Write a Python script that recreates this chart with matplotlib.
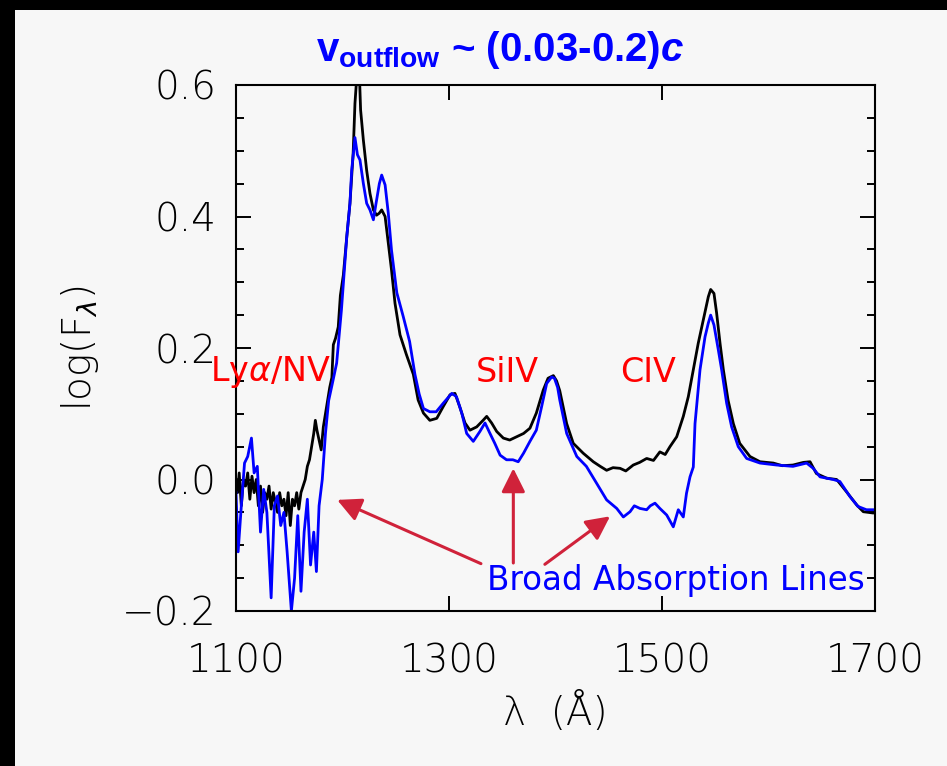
import numpy as np
import matplotlib
matplotlib.use('Agg')
import matplotlib.pyplot as plt
from matplotlib.ticker import MultipleLocator
from matplotlib.patches import Rectangle

# composite spectrum without BAL (black)
wave_black = [1100, 1101.5, 1103, 1105, 1107, 1109, 1111, 1113, 1115, 1117, 1119, 1121, 1123, 1125,
              1127, 1129, 1131, 1133, 1135, 1137, 1139, 1141, 1143, 1145, 1147, 1149, 1151, 1153,
              1155, 1157, 1159, 1161, 1163, 1165, 1167, 1169, 1171, 1173, 1174.5, 1176, 1178, 1180,
              1182, 1184, 1186, 1188, 1190, 1191.4, 1193.5, 1196, 1198, 1200.8, 1204, 1207, 1210,
              1211.7, 1213.3, 1215, 1216, 1217, 1219.6, 1222.7, 1225.8, 1229, 1232, 1234.5, 1236.8,
              1240, 1243, 1246, 1249.3, 1254, 1260, 1266.5, 1271, 1276, 1282, 1288.5, 1294.6, 1301,
              1305.6, 1310, 1315, 1319.7, 1326, 1332, 1335.4, 1340, 1344.8, 1351, 1357, 1363.6, 1370,
              1376, 1382, 1388.5, 1393, 1398, 1401, 1404, 1410.5, 1416.7, 1426, 1435.5, 1442, 1448,
              1454, 1460.6, 1466, 1473, 1479, 1485.6, 1492, 1498, 1503, 1507.5, 1513.8, 1520, 1524.7,
              1529.4, 1534, 1538.8, 1543.5, 1545.7, 1548.8, 1551.3, 1554.5, 1557.6, 1562, 1567, 1573,
              1582.6, 1592, 1604.5, 1613, 1623, 1632.7, 1639, 1645, 1654.6, 1664, 1673.4, 1683, 1689,
              1698.4, 1700]
flux_black = [0.0, -0.02, 0.01, -0.04, 0.0, -0.01, 0.01, -0.03, 0.005, -0.02, 0.0, -0.04, -0.01, -0.05,
              -0.02, -0.03, -0.01, -0.045, -0.02, -0.035, -0.05, -0.02, -0.04, -0.03, -0.055, -0.02, -0.07, -0.03,
              -0.04, -0.02, -0.045, -0.02, -0.01, 0.0, 0.02, 0.03, 0.05, 0.07, 0.09, 0.075, 0.06, 0.045,
              0.08, 0.10, 0.12, 0.14, 0.155, 0.205, 0.215, 0.232, 0.28, 0.311, 0.369, 0.42, 0.496,
              0.572, 0.61, 0.63, 0.61, 0.562, 0.516, 0.47, 0.435, 0.41, 0.402, 0.405, 0.41,
              0.40, 0.36, 0.319, 0.268, 0.22, 0.19, 0.16, 0.121, 0.101, 0.09, 0.093, 0.111, 0.129,
              0.131, 0.111, 0.086, 0.075, 0.08, 0.09, 0.096, 0.086, 0.073, 0.063, 0.06, 0.065, 0.07,
              0.078, 0.101, 0.136, 0.154, 0.158, 0.15, 0.135, 0.085, 0.055, 0.04, 0.027, 0.02, 0.014,
              0.018, 0.017, 0.013, 0.022, 0.026, 0.032, 0.029, 0.042, 0.038, 0.05, 0.065, 0.096, 0.126,
              0.167, 0.207, 0.243, 0.278, 0.289, 0.283, 0.253, 0.207, 0.167, 0.121, 0.085, 0.055,
              0.035, 0.027, 0.025, 0.021, 0.022, 0.026, 0.027, 0.009, 0.002, 0.0, -0.019, -0.039, -0.049,
              -0.051, -0.05]

# BAL quasar spectrum (blue)
wave_blue = [1100, 1102, 1105, 1108, 1111, 1114.5, 1117, 1120, 1123, 1126, 1129, 1133, 1136, 1139,
             1142, 1145, 1148, 1152, 1155, 1158, 1161, 1164, 1167, 1170, 1173, 1175.5, 1178, 1181,
             1184, 1187, 1191, 1194.5, 1199, 1204, 1207, 1208.6, 1211.7, 1214, 1216.4, 1219.6,
             1222.7, 1225.8, 1229, 1231.5, 1234.6, 1236.8, 1240, 1243, 1246, 1251, 1257, 1263,
             1268, 1272, 1276, 1282, 1288, 1294.6, 1302.6, 1307, 1312, 1316.6, 1322.8, 1329,
             1333.8, 1338.5, 1343, 1348, 1354, 1360, 1365, 1370, 1376, 1382, 1387, 1391.7, 1396.4,
             1399, 1402, 1404, 1410.5, 1420, 1429, 1438.7, 1448, 1457.5, 1463.7, 1470, 1474, 1479.3,
             1485.6, 1489, 1493.4, 1498, 1504.4, 1510.6, 1515.3, 1520, 1523, 1526.3, 1529.4, 1531,
             1535.7, 1540.4, 1543.5, 1545.7, 1548.8, 1552.9, 1556, 1560.7, 1565.4, 1571.6, 1579.5,
             1592, 1607.7, 1623, 1635.8, 1642, 1648.4, 1660.8, 1667, 1676.5, 1684, 1692, 1700]
flux_blue = [-0.02, -0.11, -0.04, 0.025, 0.035, 0.063, 0.01, 0.02, -0.08, -0.015, -0.05, -0.18, -0.04, -0.025,
             -0.07, -0.05, -0.11, -0.20, -0.15, -0.055, -0.17, -0.08, -0.03, -0.13, -0.08, -0.14, -0.04, 0.0,
             0.07, 0.12, 0.15, 0.177, 0.258, 0.369, 0.42, 0.47, 0.52, 0.494, 0.486, 0.45,
             0.42, 0.41, 0.395, 0.42, 0.45, 0.463, 0.448, 0.405, 0.349, 0.284, 0.248, 0.21,
             0.16, 0.13, 0.108, 0.103, 0.103, 0.116, 0.131, 0.126, 0.101, 0.07, 0.058, 0.073,
             0.086, 0.07, 0.055, 0.037, 0.03, 0.03, 0.027, 0.04, 0.058, 0.075, 0.111, 0.146, 0.156,
             0.154, 0.14, 0.121, 0.07, 0.035, 0.02, -0.006, -0.031, -0.044, -0.057, -0.049, -0.04, -0.044,
             -0.046, -0.04, -0.036, -0.044, -0.054, -0.072, -0.046, -0.057, -0.021, 0.004, 0.019, 0.085,
             0.167, 0.217, 0.238, 0.25, 0.235, 0.197, 0.167, 0.116, 0.08, 0.05, 0.032,
             0.025, 0.022, 0.02, 0.025, 0.017, 0.004, 0.0, -0.003, -0.026, -0.041, -0.046, -0.046]

xticks = [1100, 1300, 1500, 1700]
yticks = [-0.2, 0.0, 0.2, 0.4, 0.6]

BG = '#f7f7f7'
ARROW = '#d0223a'
THIN = dict(family='DejaVu Sans', fontweight=200)

plt.rcParams['mathtext.fontset'] = 'custom'
plt.rcParams['mathtext.bf'] = 'Liberation Sans:bold'
plt.rcParams['mathtext.bfit'] = 'Liberation Sans:italic:bold'

fig = plt.figure(figsize=(9.47, 7.66), dpi=100, facecolor=BG)
# dark frame strips at top and left edge of the slide
fig.patches.append(Rectangle((0, 1 - 10 / 766), 1, 10 / 766, transform=fig.transFigure,
                             facecolor='black', edgecolor='none'))
fig.patches.append(Rectangle((0, 0), 15 / 947, 1, transform=fig.transFigure,
                             facecolor='black', edgecolor='none'))

ax = fig.add_axes([236 / 947, 1 - 611 / 766, 639 / 947, 526 / 766], facecolor=BG)
ax.plot(wave_black, flux_black, color='black', lw=2.0)
ax.plot(wave_blue, flux_blue, color='#0000ff', lw=2.0)

ax.set_xlim(1100, 1700)
ax.set_ylim(-0.2, 0.6)
ax.set_xticks(xticks)
ax.set_xticklabels([str(t) for t in xticks], **THIN)
ax.set_yticks(yticks)
ax.set_yticklabels(['\u22120.2', '0.0', '0.2', '0.4', '0.6'], **THIN)
ax.yaxis.set_minor_locator(MultipleLocator(0.05))
ax.tick_params(which='both', direction='in', top=True, right=True, width=1.4, color='black')
ax.tick_params(which='major', length=10.5)
ax.tick_params(which='minor', length=5.5)
ax.tick_params(axis='x', pad=23, labelsize=28)
ax.tick_params(axis='y', pad=14, labelsize=28)
for s in ax.spines.values():
    s.set_linewidth(1.5)

fig.text(80 / 947, 1 - 348 / 766, r'log(F$_{\lambda}$)', rotation=90, ha='center', va='center',
         fontsize=28, **THIN)
fig.text(555 / 947, 1 - 713 / 766, '\u03bb  (\u00c5)', ha='center', va='center', fontsize=28, **THIN)

fig.text(500 / 947, 1 - 50 / 766, r'$\mathbf{v}_{\mathbf{outflow}}$ ~ (0.03-0.2)$\mathbfit{c}$',
         ha='center', va='center', fontsize=29, color='#0000ff', fontweight='bold',
         family='Liberation Sans')

# emission line names
ax.text(1075.6, 0.163, r'Ly$\alpha$/NV', color='red', fontsize=24, ha='left', va='center',
        clip_on=False)
ax.text(1325.4, 0.163, 'SiIV', color='red', fontsize=24, ha='left', va='center')
ax.text(1460.6, 0.163, 'CIV', color='red', fontsize=24, ha='left', va='center')
ax.text(1335.7, -0.153, 'Broad Absorption Lines', color='#0000ff', fontsize=23.5, ha='left',
        va='center')

arrow = dict(arrowstyle='-|>,head_length=0.6,head_width=0.3', mutation_scale=24,
             lw=2.2, color=ARROW, shrinkA=0, shrinkB=0)
ax.annotate('', xy=(1195.0, -0.031), xytext=(1330.0, -0.128), arrowprops=arrow)
ax.annotate('', xy=(1360.4, 0.017), xytext=(1360.4, -0.127), arrowprops=arrow)
ax.annotate('', xy=(1451.2, -0.056), xytext=(1390.0, -0.129), arrowprops=arrow)

fig.savefig('out.png', dpi=100, facecolor=BG)
